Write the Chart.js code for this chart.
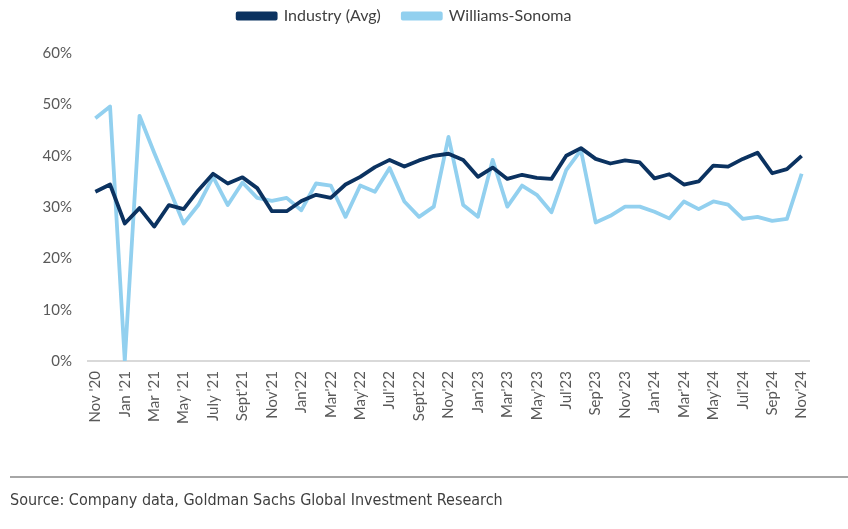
<!DOCTYPE html>
<html>
<head>
<meta charset="utf-8">
<script src="https://cdn.jsdelivr.net/npm/chart.js@4"></script>
<style>
  html, body { margin: 0; padding: 0; background: #fff; }
</style>
</head>
<body>
<canvas id="chart" width="848" height="529"></canvas>
<script>
// months, Nov'20 to Nov'24 (only every second one is shown on the axis)
const months = [
  "Nov '20", "Dec '20", "Jan '21", "Feb '21", "Mar '21", "Apr '21", "May '21", "Jun '21",
  "July '21", "Aug '21", "Sept'21", "Oct'21", "Nov'21", "Dec'21", "Jan'22", "Feb'22",
  "Mar'22", "Apr'22", "May'22", "Jun'22", "Jul'22", "Aug'22", "Sept'22", "Oct'22",
  "Nov'22", "Dec'22", "Jan'23", "Feb'23", "Mar'23", "Apr'23", "May'23", "Jun'23",
  "Jul'23", "Aug'23", "Sep'23", "Oct'23", "Nov'23", "Dec'23", "Jan'24", "Feb'24",
  "Mar'24", "Apr'24", "May'24", "Jun'24", "Jul'24", "Aug'24", "Sep'24", "Oct'24", "Nov'24"
];

// values in %
const industryAvg = [
  33.0, 34.4, 26.8, 29.8, 26.2, 30.4, 29.6, 33.3, 36.5, 34.6, 35.8, 33.7, 29.2, 29.2,
  31.2, 32.4, 31.8, 34.4, 35.9, 37.8, 39.2, 37.9, 39.1, 40.0, 40.4, 39.2, 35.9, 37.7,
  35.5, 36.3, 35.7, 35.5, 40.0, 41.5, 39.4, 38.5, 39.1, 38.7, 35.6, 36.4, 34.4, 35.0,
  38.1, 37.9, 39.4, 40.6, 36.6, 37.4, 40.0
];
const williamsSonoma = [
  47.3, 49.6, 0.0, 47.8, 40.6, 33.7, 26.8, 30.4, 35.9, 30.4, 34.8, 31.8, 31.2, 31.8,
  29.4, 34.6, 34.2, 28.1, 34.2, 33.0, 37.6, 31.1, 28.1, 30.1, 43.7, 30.4, 28.1, 39.2,
  30.1, 34.2, 32.4, 29.0, 37.2, 41.1, 27.0, 28.3, 30.1, 30.1, 29.1, 27.8, 31.1, 29.6,
  31.1, 30.5, 27.7, 28.1, 27.3, 27.7, 36.5
];

const yTicks = [0, 10, 20, 30, 40, 50, 60];

const darkBlue = "#0b3260";
const lightBlue = "#92d0ef";
const axisFont = "Lato, 'Open Sans', sans-serif";

// source footer under the chart
const sourceNote = {
  id: "sourceNote",
  afterDraw(chart) {
    const c = chart.ctx;
    c.save();
    c.strokeStyle = "#a6a6a6";
    c.lineWidth = 2;
    c.beginPath();
    c.moveTo(10, 477);
    c.lineTo(848, 477);
    c.stroke();
    c.fillStyle = "#3f3f3f";
    c.font = "16px 'Liberation Sans Narrow', 'DejaVu Sans Condensed', sans-serif";
    c.textBaseline = "middle";
    c.fillText("Source: Company data, Goldman Sachs Global Investment Research", 10, 501);
    c.restore();
  }
};

const ctx = document.getElementById("chart").getContext("2d");
new Chart(ctx, {
  type: "line",
  data: {
    labels: months,
    datasets: [
      {
        label: "Industry (Avg)",
        data: industryAvg,
        borderColor: darkBlue,
        backgroundColor: darkBlue,
        borderWidth: 3.8,
        pointRadius: 0,
        tension: 0,
        borderJoinStyle: "round"
      },
      {
        label: "Williams-Sonoma",
        data: williamsSonoma,
        borderColor: lightBlue,
        backgroundColor: lightBlue,
        borderWidth: 3.8,
        pointRadius: 0,
        tension: 0,
        borderJoinStyle: "round"
      }
    ]
  },
  options: {
    responsive: false,
    animation: false,
    layout: { padding: { top: -14, right: 39, bottom: 90, left: 0 } },
    plugins: {
      tooltip: { enabled: false },
      legend: {
        position: "top",
        labels: {
          boxWidth: 38,
          boxHeight: 5,
          padding: 22,
          color: "#404040",
          font: { family: axisFont, size: 16 }
        }
      },
      // empty spacer between legend and plot
      title: {
        display: true,
        text: " ",
        weight: 500,
        font: { size: 1 },
        padding: { top: 0, bottom: 18 }
      }
    },
    scales: {
      x: {
        offset: true,
        grid: { display: false, drawTicks: false },
        border: { color: "#d9d9d9", width: 2 },
        ticks: {
          autoSkip: false,
          maxRotation: 90,
          minRotation: 90,
          padding: 10,
          color: "#595959",
          font: { family: axisFont, size: 15 },
          callback: (v, i) => (i % 2 === 0 ? months[i] : "")
        },
        afterFit: (scale) => { scale.height = 78; }
      },
      y: {
        min: 0,
        max: 60,
        afterBuildTicks: (scale) => { scale.ticks = yTicks.map(v => ({ value: v })); },
        grid: { display: false, drawTicks: false },
        border: { display: false },
        ticks: {
          padding: 16,
          color: "#595959",
          font: { family: axisFont, size: 15 },
          callback: (v) => v + "%"
        },
        afterFit: (scale) => { scale.width = 88; }
      }
    }
  },
  plugins: [sourceNote]
});
</script>
</body>
</html>
